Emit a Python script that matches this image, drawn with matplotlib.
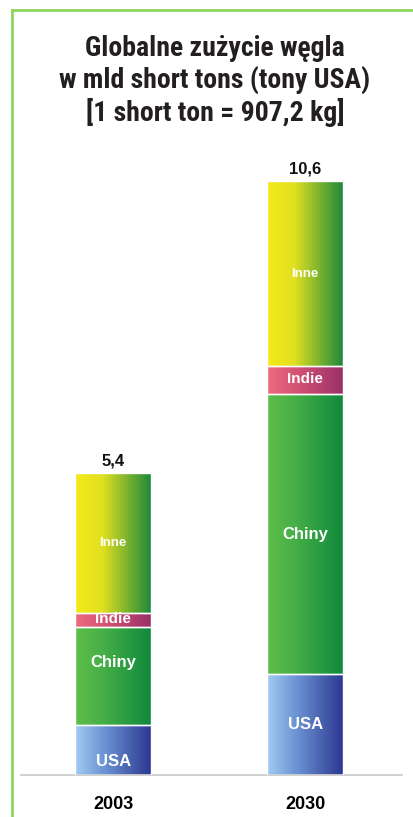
import numpy as np
import matplotlib
matplotlib.use("Agg")
import matplotlib.pyplot as plt
from matplotlib.lines import Line2D
from matplotlib.colors import LinearSegmentedColormap
from matplotlib import font_manager

years = ["2003", "2030"]
totals = ["5,4", "10,6"]
segments = ["USA", "Chiny", "Indie", "Inne"]
usa = [0.9, 1.8]
chiny = [1.75, 5.0]
indie = [0.25, 0.5]
inne = [2.5, 3.3]
title = "Globalne zużycie węgla\nw mld short tons (tony USA)\n[1 short ton = 907,2 kg]"

seg_values = [usa, chiny, indie, inne]
seg_colors = [["#a0cdf0", "#6f98d6", "#2b3590"],
              ["#5fbd4a", "#47b047", "#0f883c"],
              ["#ec6c80", "#d65574", "#9a3068"],
              ["#f5ea18", "#e2e020", "#1a873c"]]
label_sizes = [12, 12, 11, 9.5]
label_frac = [[0.26, 0.5], [0.63, 0.5], [0.55, 0.55], [0.5, 0.5]]

avail = {f.name for f in font_manager.fontManager.ttflist}
title_family = "Liberation Sans"
title_size = 16.5
for cand in ["Liberation Sans Narrow", "Roboto Condensed", "DejaVu Sans Condensed",
             "Open Sans Condensed", "Noto Sans Condensed", "Arial Narrow"]:
    if cand in avail:
        title_family = cand
        title_size = 20
        break

W, H = 413, 817
fig = plt.figure(figsize=(W / 100, H / 100), dpi=100)
fig.patch.set_facecolor("white")

ax = fig.add_axes([21 / W, 42 / H, 381 / W, 672 / H])
ax.set_xlim(-0.48, 1.505)
ax.set_ylim(0, 12)
x = np.arange(len(years))
width = 0.396

bottoms = np.zeros(len(years))
grad = np.linspace(0, 1, 256).reshape(1, -1)
for name, vals, cols, fs, fr in zip(segments, seg_values, seg_colors, label_sizes, label_frac):
    bars = ax.bar(x, vals, width, bottom=bottoms, color="none",
                  edgecolor="white", linewidth=1.0, zorder=3)
    cmap = LinearSegmentedColormap.from_list(name, list(zip([0, 0.35, 1], cols)))
    for i, p in enumerate(bars):
        x0, y0 = p.get_x(), p.get_y()
        w, h = p.get_width(), p.get_height()
        im = ax.imshow(grad, cmap=cmap, extent=[x0, x0 + w, y0, y0 + h],
                       aspect="auto", zorder=2, interpolation="bilinear")
        im.set_clip_path(p)
        ax.text(x0 + w / 2, y0 + h * fr[i], name, ha="center", va="center",
                color="white", fontsize=fs, fontweight="bold",
                family="Liberation Sans", zorder=4)
    bottoms = bottoms + np.array(vals)

for xi, tot, lab in zip(x, bottoms, totals):
    ax.text(xi, tot + 0.08, lab, ha="center", va="bottom", fontsize=12,
            fontweight="bold", family="Liberation Sans", color="#111111")

ax.set_xticks(x)
ax.set_xticklabels(years, fontsize=13, fontweight="bold", family="Liberation Sans")
ax.tick_params(axis="x", length=0, pad=15)
ax.set_yticks([])
for s in ["top", "left", "right"]:
    ax.spines[s].set_visible(False)
ax.spines["bottom"].set_color("#c8c8c8")
ax.spines["bottom"].set_linewidth(1.2)
ax.set_facecolor("none")

fig.text(215 / W, 1 - 81 / H, title, ha="center", va="center",
         fontsize=title_size, fontweight="bold", family=[title_family, "DejaVu Sans"],
         color="#231f20", linespacing=1.18)

green = "#8fd45c"
fig.add_artist(Line2D([12 / W, 12 / W], [0, 1 - 10 / H], transform=fig.transFigure,
                      color=green, linewidth=2))
fig.add_artist(Line2D([12 / W, 1], [1 - 10 / H, 1 - 10 / H], transform=fig.transFigure,
                      color=green, linewidth=2))

fig.savefig("out.png", dpi=100)
